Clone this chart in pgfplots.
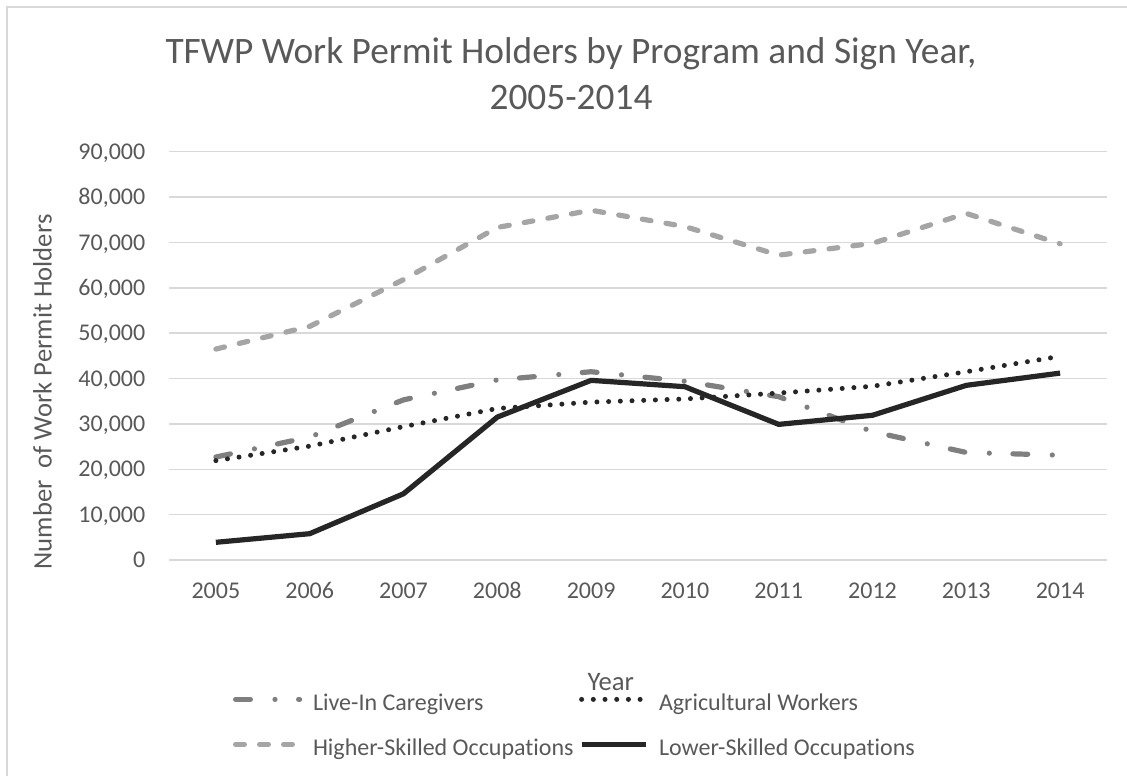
\documentclass[border=0pt]{standalone}
\usepackage{fontspec}
\setmainfont{Carlito}[Ligatures=CommonOff]
\usepackage{pgfplots}
\pgfplotsset{compat=1.18}
\definecolor{txt}{HTML}{595959}
\definecolor{gridc}{HTML}{D9D9D9}
\definecolor{cLive}{HTML}{7F7F7F}
\definecolor{cHigh}{HTML}{A5A5A5}
\definecolor{cBlack}{HTML}{262626}
\begin{document}
\begin{tikzpicture}
\useasboundingbox (0,0) rectangle (563.5pt,388pt);
\fill[white] (0,0) rectangle (563.5pt,388pt);
\draw[gridc, line width=0.75pt] (3.6pt,0pt) -- (3.6pt,384.4pt) -- (563.5pt,384.4pt);
\node[font=\fontsize{18.67}{22}\selectfont, text=txt, anchor=base, inner sep=0pt] at (285.5pt,356.3pt) {TFWP Work Permit Holders by Program and Sign Year,};
\node[font=\fontsize{18.67}{22}\selectfont, text=txt, anchor=base, inner sep=0pt] at (285.5pt,333.2pt) {2005-2014};
\begin{axis}[
  at={(84.5pt,108pt)}, anchor=south west,
  width=469pt, height=204.15pt, scale only axis,
  xmin=-0.5, xmax=9.5, ymin=0, ymax=90000,
  axis line style={draw=none},
  xtick={0,1,2,3,4,5,6,7,8,9},
  xticklabels={2005,2006,2007,2008,2009,2010,2011,2012,2013,2014},
  ytick={0,10000,20000,30000,40000,50000,60000,70000,80000,90000},
  scaled y ticks=false,
  major tick length=0pt,
  tick style={draw=none},
  ymajorgrids,
  grid style={gridc, line width=0.75pt},
  ticklabel style={font=\fontsize{12}{14}\selectfont, text=txt},
  yticklabel style={anchor=east, inner sep=0pt, text height=7.6pt, text depth=0pt, xshift=-11.65pt,
    /pgf/number format/fixed, /pgf/number format/1000 sep={,}, /pgf/number format/assume math mode=true},
  xticklabel style={anchor=north, inner sep=0pt, text height=7.6pt, text depth=0pt, yshift=-11.65pt},
  ylabel={Number\ \ of Work Permit Holders},
  xlabel={Year},
  every axis y label/.style={at={(rel axis cs:-0.1349,0.4115)}, rotate=90, anchor=center, inner sep=0pt,
    font=\fontsize{13.33}{16}\selectfont, text=txt},
  every axis x label/.style={at={(rel axis cs:0.4709,-0.2976)}, anchor=center, inner sep=0pt, text depth=0pt,
    font=\fontsize{13.33}{16}\selectfont, text=txt},
  legend columns=2,
  legend style={at={(0.06823,-0.3098)}, anchor=north west, draw=none, fill=none,
    inner sep=0pt, outer sep=0pt, row sep=7.5pt, column sep=0pt,
    font=\fontsize{12}{14}\selectfont, text=txt,
    nodes={inner sep=0pt, text height=9pt, text depth=3pt}},
  legend cell align=left,
  legend image code/.code={\path[draw=none,fill=none] (0pt,-3pt) rectangle (40pt,9pt); \draw[#1] (1.3pt,2.55pt) -- (33.3pt,2.55pt);},
]
\addplot[cLive, line width=2.6pt, line cap=round, line join=round, dash pattern=on 7.4pt off 12.3pt on 0pt off 11.8pt] coordinates {
(0,22700) (1,27100) (2,35300) (3,39700) (4,41500) (5,39400) (6,36000) (7,28300) (8,23700) (9,23100)};
\addlegendentry{\makebox[133pt][l]{Live-In Caregivers}}
\addplot[cBlack, line width=2.5pt, line cap=round, line join=round, dash pattern=on 0pt off 5.85pt] coordinates {
(0,21900) (1,25100) (2,29400) (3,33400) (4,34800) (5,35500) (6,36800) (7,38300) (8,41500) (9,44900)};
\addlegendentry{Agricultural Workers}
\addplot[cHigh, line width=2.6pt, line cap=round, line join=round, dash pattern=on 4.4pt off 7.6pt] coordinates {
(0,46500) (1,51500) (2,61800) (3,73300) (4,77100) (5,73500) (6,67200) (7,69800) (8,76400) (9,69700)};
\addlegendentry{\makebox[133pt][l]{Higher-Skilled Occupations}}
\addplot[cBlack, line width=2.6pt, line join=round] coordinates {
(0,3900) (1,5800) (2,14600) (3,31500) (4,39600) (5,38200) (6,29900) (7,31900) (8,38500) (9,41200)};
\addlegendentry{Lower-Skilled Occupations}
\end{axis}
\end{tikzpicture}
\end{document}
